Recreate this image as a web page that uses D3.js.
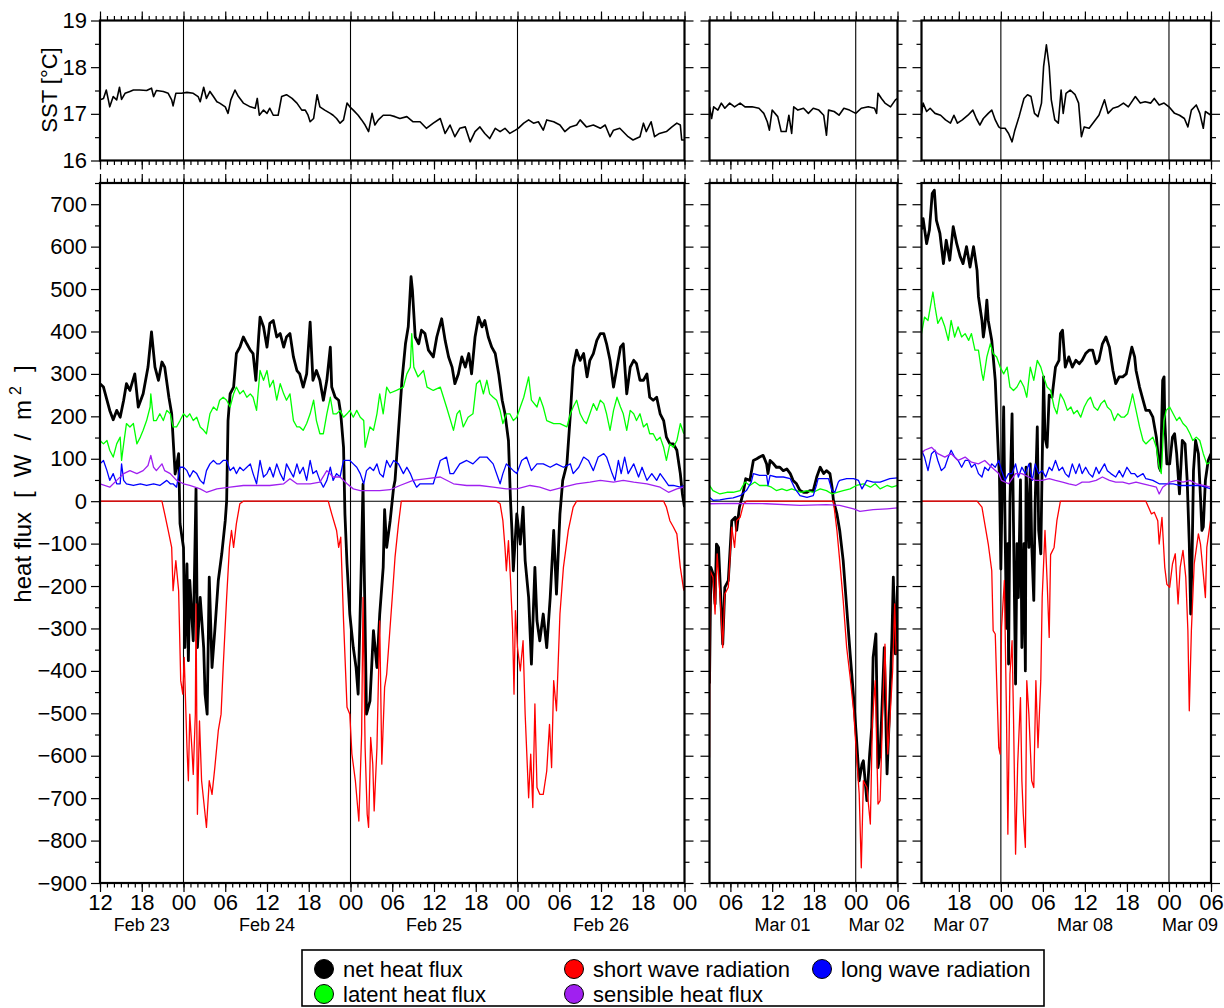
<!DOCTYPE html>
<html>
<head>
<meta charset="utf-8">
<script src="https://cdn.jsdelivr.net/npm/d3@7"></script>
<style>
  body { margin: 0; background: #fff; }
</style>
</head>
<body>
<svg id="chart" width="1224" height="1008"></svg>
<script>
// ---- data: [hours since midnight of the panel's first day, value] ----

// panel A: from Feb 23 00:00
const sstA = [[12.0,17.30],[12.5,17.33],[12.9,17.51],[13.2,17.30],[13.4,17.15],[13.9,17.37],[14.4,17.30],[14.8,17.57],[15.1,17.31],[15.6,17.44],[16.3,17.48],[16.8,17.51],[17.7,17.51],[18.7,17.50],[19.4,17.55],[19.7,17.37],[20.1,17.50],[21.1,17.48],[21.8,17.44],[22.3,17.30],[22.5,17.17],[22.9,17.44],[23.7,17.44],[24.5,17.46],[25.4,17.44],[26.1,17.37],[26.4,17.26],[26.9,17.57],[27.3,17.33],[27.8,17.48],[28.3,17.37],[28.8,17.26],[29.2,17.23],[30.0,17.15],[30.4,17.01],[30.8,17.30],[31.4,17.51],[31.9,17.37],[32.6,17.23],[33.6,17.15],[34.3,17.12],[34.6,17.33],[34.9,16.97],[35.5,17.08],[36.0,17.01],[36.4,17.12],[36.9,16.97],[37.6,16.97],[38.1,17.37],[38.8,17.41],[39.6,17.33],[40.3,17.23],[41.0,17.08],[41.5,17.08],[41.9,16.97],[42.2,16.83],[42.7,16.90],[43.2,17.41],[43.6,17.15],[44.3,17.08],[45.1,17.01],[45.5,16.97],[46.0,16.90],[46.5,16.80],[47.0,16.87],[47.5,17.23],[47.9,17.15],[48.4,17.08],[49.1,16.97],[49.6,16.87],[50.1,16.76],[50.6,16.62],[51.1,17.01],[51.5,16.76],[52.0,16.87],[52.7,16.97],[53.7,16.97],[54.4,16.94],[55.1,16.90],[56.1,16.94],[57.0,16.83],[58.0,16.83],[58.9,16.69],[59.9,16.80],[60.9,16.90],[61.6,16.58],[62.3,16.76],[63.0,16.51],[63.7,16.69],[64.5,16.72],[65.2,16.40],[65.9,16.62],[66.6,16.72],[67.3,16.58],[68.0,16.47],[68.8,16.69],[69.5,16.62],[70.2,16.69],[70.9,16.58],[71.7,16.65],[72.1,16.69],[72.9,16.80],[73.6,16.87],[74.3,16.80],[75.0,16.83],[75.7,16.65],[76.2,16.87],[77.2,16.83],[78.1,16.76],[78.8,16.62],[79.6,16.72],[80.5,16.76],[81.0,16.87],[81.9,16.72],[82.9,16.76],[83.9,16.69],[84.6,16.76],[85.3,16.51],[85.8,16.65],[86.7,16.69],[87.9,16.51],[88.6,16.44],[89.6,16.51],[90.1,16.80],[90.5,16.62],[91.2,16.83],[91.7,16.51],[92.4,16.58],[93.4,16.62],[94.2,16.72],[94.9,16.80],[95.4,16.76],[95.6,16.44],[96.0,16.44]];

const netA = [[12.0,277],[12.5,269],[13.4,214],[13.9,192],[14.4,214],[14.9,198],[15.4,238],[15.8,277],[16.3,261],[17.0,300],[17.5,222],[18.2,253],[18.9,316],[19.4,399],[19.9,316],[20.4,285],[20.9,328],[21.3,316],[21.9,245],[22.3,206],[22.8,64],[23.3,112],[23.5,-53],[24.0,-109],[24.2,-345],[24.5,-148],[24.7,-376],[24.9,-187],[25.4,-329],[25.8,30],[26.0,-345],[26.4,-227],[26.9,-345],[27.1,-455],[27.4,-502],[27.7,-179],[28.1,-392],[28.5,-305],[29.0,-187],[29.5,-124],[30.0,-46],[30.2,0],[30.4,190],[30.7,253],[31.2,269],[31.6,348],[32.1,363],[32.6,387],[33.1,371],[33.6,356],[34.0,348],[34.4,285],[34.8,387],[35.0,434],[35.5,411],[36.0,363],[36.4,419],[36.9,426],[37.4,387],[37.9,395],[38.4,363],[38.8,387],[39.3,395],[39.8,340],[40.3,308],[40.7,300],[41.2,269],[41.7,300],[42.2,422],[42.6,285],[43.1,308],[43.6,285],[44.1,238],[44.6,285],[45.1,363],[45.3,269],[45.8,245],[46.3,238],[46.6,206],[47.0,127],[47.2,-30],[47.5,-148],[47.9,-266],[48.4,-345],[48.8,-392],[49.1,-455],[49.5,-187],[49.8,40],[50.0,-187],[50.3,-502],[50.8,-471],[51.3,-305],[51.8,-392],[52.2,-266],[52.7,-156],[52.9,-20],[53.2,-109],[53.7,-46],[54.2,33],[54.4,49],[54.9,167],[55.4,285],[55.9,371],[56.3,411],[56.7,529],[56.9,497],[57.3,387],[57.8,371],[58.2,403],[58.7,395],[59.2,356],[59.9,340],[60.4,387],[61.1,430],[61.6,379],[62.1,340],[62.6,316],[63.0,277],[63.5,300],[64.0,340],[64.5,316],[65.0,348],[65.4,300],[65.9,387],[66.4,434],[66.9,411],[67.3,426],[67.8,387],[68.3,363],[68.8,348],[69.3,300],[69.8,238],[70.2,206],[70.7,143],[71.0,0],[71.2,-69],[71.4,-164],[71.9,-30],[72.4,-101],[72.8,-14],[73.1,-140],[73.6,-227],[74.0,-384],[74.5,-156],[74.8,-282],[75.2,-329],[75.7,-266],[76.2,-345],[76.7,-227],[77.2,-69],[77.6,-219],[78.1,-30],[78.5,49],[79.1,88],[79.6,206],[80.0,316],[80.5,356],[81.0,332],[81.5,348],[82.0,293],[82.4,332],[82.9,348],[83.4,379],[83.9,395],[84.4,395],[84.8,371],[85.3,332],[85.8,269],[86.3,316],[86.8,363],[87.2,371],[87.7,253],[88.2,316],[88.7,332],[89.1,324],[89.6,285],[90.1,285],[90.6,300],[91.0,245],[91.5,238],[92.0,245],[92.5,206],[93.0,190],[93.4,151],[93.9,135],[94.4,135],[94.9,120],[95.4,65],[95.7,17],[96.0,-14]];

const swA = [[12.0,0],[20.9,0],[21.3,-30],[21.8,-69],[22.3,-109],[22.5,-211],[22.9,-140],[23.3,-211],[23.6,-423],[23.9,-455],[24.1,-368],[24.5,-581],[24.7,-659],[24.9,-502],[25.2,-581],[25.4,-644],[25.7,-502],[25.8,-242],[26.0,-738],[26.3,-518],[26.6,-659],[27.0,-722],[27.3,-769],[27.7,-659],[28.1,-691],[28.5,-628],[29.0,-541],[29.4,-502],[29.7,-392],[30.2,-227],[30.6,-109],[30.9,-69],[31.2,-109],[31.6,-53],[32.1,-6],[32.6,0],[44.8,0],[45.3,-30],[46.0,-69],[46.3,-109],[46.6,-85],[47.0,-282],[47.5,-486],[47.9,-502],[48.2,-596],[48.7,-659],[49.2,-754],[49.6,-549],[49.8,-227],[50.1,-581],[50.4,-738],[50.6,-769],[50.9,-557],[51.2,-620],[51.4,-730],[51.8,-581],[52.2,-282],[52.5,-620],[52.9,-439],[53.2,-408],[54.0,-227],[54.4,-132],[54.9,-53],[55.3,0],[69.0,0],[69.5,-6],[69.9,-46],[70.2,-109],[70.4,-164],[70.7,-93],[71.0,-187],[71.3,-305],[71.5,-455],[71.7,-258],[72.0,-345],[72.4,-400],[72.8,-329],[73.1,-502],[73.6,-699],[73.9,-596],[74.2,-722],[74.5,-478],[74.8,-675],[75.2,-691],[75.7,-691],[76.2,-636],[76.6,-526],[76.9,-628],[77.2,-423],[77.6,-494],[78.1,-266],[78.6,-156],[79.3,-69],[80.0,-14],[80.5,0],[93.0,0],[93.4,-14],[93.9,-46],[94.4,-61],[94.9,-77],[95.4,-156],[95.9,-211]];

const latA = [[12.0,143],[12.5,135],[13.0,143],[13.4,120],[13.9,104],[14.4,135],[14.9,151],[15.1,96],[15.4,135],[15.8,183],[16.3,175],[16.8,183],[17.3,135],[17.8,151],[18.2,167],[18.7,190],[19.2,222],[19.3,253],[19.7,190],[20.1,190],[20.6,206],[21.1,190],[21.6,214],[22.1,206],[22.5,175],[23.0,175],[23.5,190],[24.0,206],[24.5,198],[24.9,206],[25.4,190],[25.9,198],[26.4,175],[26.9,167],[27.3,159],[27.8,206],[28.3,222],[28.8,214],[29.2,238],[29.7,245],[30.2,238],[30.7,222],[31.2,253],[31.6,269],[32.1,253],[32.6,261],[33.1,245],[33.6,253],[34.0,245],[34.5,214],[35.0,308],[35.5,285],[36.0,308],[36.4,269],[36.9,285],[37.4,238],[37.9,277],[38.4,253],[38.8,238],[39.3,253],[39.8,190],[40.3,175],[40.7,175],[41.2,167],[41.7,183],[42.2,206],[42.7,238],[43.1,190],[43.6,159],[44.1,159],[44.6,206],[45.1,245],[45.5,206],[46.0,206],[46.5,214],[47.0,198],[47.5,206],[47.9,214],[48.4,198],[48.9,214],[49.4,198],[49.9,190],[50.1,127],[50.8,175],[51.3,167],[51.8,206],[52.2,253],[52.7,206],[53.2,269],[53.7,255],[54.6,261],[55.6,269],[56.1,300],[56.6,316],[56.8,395],[57.1,316],[57.7,293],[58.5,308],[59.0,269],[59.9,261],[60.9,269],[61.8,222],[62.8,167],[63.3,206],[63.7,214],[64.2,175],[64.9,198],[65.6,206],[66.1,277],[66.6,285],[67.1,253],[67.6,285],[68.0,253],[68.5,245],[69.0,238],[69.5,214],[69.9,183],[70.4,206],[70.9,206],[71.4,190],[71.9,198],[72.4,222],[72.9,245],[73.6,293],[74.0,238],[74.8,222],[75.2,245],[75.7,222],[76.2,190],[77.2,183],[78.1,183],[79.1,175],[79.6,206],[80.0,222],[80.5,238],[81.0,206],[81.5,190],[81.9,183],[82.4,206],[82.9,230],[83.4,214],[83.9,238],[84.4,230],[84.8,206],[85.3,167],[85.8,214],[86.3,245],[86.8,222],[87.2,206],[87.7,167],[88.2,214],[88.7,206],[89.1,190],[89.6,206],[90.1,175],[90.6,183],[91.0,159],[91.5,159],[92.0,143],[92.5,151],[93.0,127],[93.4,96],[93.9,135],[94.4,127],[94.9,143],[95.4,183],[95.9,159]];

const lwA = [[12.0,88],[12.5,96],[13.0,72],[13.4,49],[13.9,65],[14.4,41],[14.9,41],[15.1,88],[15.4,49],[15.8,41],[16.8,37],[17.8,41],[18.7,37],[19.7,41],[20.6,37],[21.6,49],[22.1,41],[22.5,41],[23.0,33],[23.5,80],[24.0,80],[24.5,72],[24.9,57],[25.4,72],[25.9,65],[26.4,49],[26.9,41],[27.3,72],[27.8,88],[28.3,96],[28.8,88],[29.2,88],[29.7,96],[30.2,96],[30.7,72],[31.2,80],[31.6,65],[32.1,80],[32.6,72],[33.1,80],[33.6,88],[34.0,65],[34.5,41],[35.0,96],[35.5,57],[36.0,65],[36.4,80],[36.9,57],[37.4,88],[37.9,65],[38.4,49],[38.8,88],[39.3,72],[39.8,57],[40.3,88],[40.7,65],[41.2,80],[41.7,49],[42.2,96],[42.6,65],[43.1,72],[43.6,49],[44.1,33],[44.6,49],[45.1,80],[45.5,49],[46.0,65],[46.5,57],[47.0,96],[47.5,96],[47.9,96],[48.4,88],[48.9,80],[49.4,65],[49.9,41],[50.3,72],[50.8,80],[51.3,72],[51.8,88],[52.2,65],[52.7,57],[53.2,96],[53.7,80],[54.2,96],[54.9,88],[55.6,65],[56.1,80],[56.6,65],[57.0,49],[57.5,33],[58.0,41],[59.0,41],[59.9,41],[60.9,96],[61.8,104],[62.3,65],[62.8,65],[63.7,88],[64.7,96],[65.6,88],[66.6,104],[67.6,104],[68.5,88],[69.5,41],[69.9,65],[70.4,88],[70.9,80],[71.4,72],[71.9,65],[72.6,96],[73.3,104],[74.0,72],[74.8,88],[75.7,88],[76.7,80],[77.6,88],[78.6,80],[79.6,88],[80.0,65],[80.8,80],[81.5,104],[82.2,96],[82.9,72],[83.6,104],[84.4,112],[84.8,104],[85.6,65],[86.0,49],[86.5,96],[86.9,65],[87.4,104],[87.9,65],[88.7,88],[89.4,57],[89.9,80],[90.6,49],[91.3,65],[92.0,49],[92.5,65],[93.2,49],[93.7,37],[94.4,37],[95.4,33],[95.9,37]];

const sensA = [[12.0,41],[13.4,33],[14.4,49],[15.4,65],[16.3,72],[17.3,65],[18.2,72],[18.9,84],[19.3,108],[19.7,80],[20.1,72],[20.9,88],[21.3,72],[22.1,65],[23.0,49],[24.0,41],[24.9,37],[26.4,29],[27.3,21],[28.8,29],[30.7,33],[32.6,37],[34.5,37],[36.4,37],[38.4,41],[39.3,53],[40.3,41],[42.2,41],[43.6,45],[44.6,72],[45.5,57],[46.5,57],[47.5,41],[48.4,29],[49.4,25],[50.8,25],[52.2,25],[53.7,27],[55.1,37],[57.0,49],[59.0,53],[60.9,57],[62.8,41],[64.7,37],[66.6,37],[68.5,33],[70.4,29],[71.9,29],[73.8,37],[75.2,33],[76.7,25],[78.6,33],[80.5,41],[82.4,45],[83.9,49],[85.8,45],[87.2,49],[88.7,45],[90.6,41],[92.5,33],[93.7,21],[94.9,29],[95.9,33]];

// panel B: from Mar 01 00:00
const sstB = [[3.0,17.15],[3.3,16.90],[3.6,17.15],[4.2,17.08],[4.7,17.23],[5.2,17.12],[5.9,17.23],[6.6,17.15],[7.4,17.23],[8.1,17.15],[9.1,17.15],[10.1,17.12],[10.8,17.01],[11.3,16.83],[11.6,16.65],[12.0,17.08],[12.8,16.94],[13.3,16.62],[14.0,16.62],[14.4,16.97],[14.8,16.58],[15.1,17.15],[15.7,17.08],[16.5,17.12],[17.2,17.01],[17.9,17.12],[18.7,17.08],[19.4,16.97],[19.8,16.54],[20.1,17.08],[20.9,17.05],[21.6,16.97],[22.3,17.12],[23.1,17.08],[24.0,17.01],[24.8,17.12],[25.8,17.15],[26.7,17.12],[27.0,17.01],[27.2,17.44],[27.7,17.33],[28.2,17.23],[29.0,17.15],[29.7,17.30],[30.0,17.33]];

const netB = [[3.0,-430],[3.2,-156],[3.5,-171],[3.8,-242],[4.0,-101],[4.3,-109],[4.6,-219],[4.9,-337],[5.2,-203],[5.7,-187],[6.2,-46],[6.7,-38],[6.9,-69],[7.3,-14],[7.8,17],[8.2,53],[8.8,49],[9.3,96],[9.8,100],[10.2,104],[10.7,108],[11.2,88],[11.4,65],[11.7,96],[12.2,88],[12.6,80],[13.1,80],[13.6,72],[14.1,76],[14.6,65],[15.0,49],[15.5,41],[16.0,25],[16.5,21],[17.0,21],[17.4,25],[17.9,25],[18.4,57],[18.9,80],[19.4,65],[19.8,72],[20.3,65],[20.6,33],[20.8,2],[21.3,-30],[21.7,-69],[22.2,-140],[22.7,-250],[23.2,-360],[23.7,-463],[24.1,-557],[24.5,-659],[24.9,-620],[25.1,-612],[25.6,-706],[26.0,-596],[26.3,-533],[26.5,-368],[26.9,-313],[27.2,-628],[27.5,-596],[27.7,-518],[28.1,-345],[28.5,-643],[28.8,-518],[29.2,-321],[29.4,-179],[29.7,-360],[30.0,-200]];

const swB = [[3.0,-604],[3.1,-164],[3.5,-179],[3.8,-266],[4.1,-124],[4.5,-219],[4.9,-345],[5.2,-219],[5.7,-203],[6.2,-61],[6.6,-109],[6.9,-46],[7.4,-38],[7.9,-6],[8.3,0],[20.8,0],[21.3,-69],[21.7,-140],[22.2,-234],[22.7,-345],[23.2,-415],[23.7,-494],[24.1,-596],[24.5,-690],[24.8,-864],[25.1,-659],[25.6,-675],[26.1,-761],[26.4,-518],[26.8,-423],[27.2,-714],[27.5,-706],[27.9,-478],[28.2,-337],[28.6,-596],[28.9,-518],[29.3,-400],[29.6,-242],[29.8,-360],[30.0,-330]];

const latB = [[3.0,37],[3.5,25],[4.5,17],[5.5,21],[6.4,21],[7.4,25],[8.1,45],[8.8,37],[9.5,45],[10.2,37],[11.2,37],[11.9,33],[12.6,25],[13.4,29],[14.1,25],[14.8,29],[15.5,25],[16.2,21],[17.0,25],[17.9,21],[18.9,29],[19.8,25],[20.6,17],[21.3,21],[22.2,25],[23.2,29],[24.1,37],[25.1,41],[26.1,33],[26.8,41],[27.5,29],[28.5,37],[29.2,33],[30.0,37]];

const lwB = [[3.0,9],[3.5,2],[4.5,3],[5.5,6],[6.4,8],[7.4,13],[8.3,25],[9.0,45],[9.3,65],[10.2,61],[11.2,61],[11.4,37],[11.7,61],[12.6,57],[13.6,57],[14.6,53],[15.3,29],[16.0,13],[17.0,9],[17.9,13],[18.4,40],[18.6,53],[19.4,53],[20.1,53],[20.6,25],[21.0,21],[21.5,45],[21.7,49],[22.7,53],[23.7,53],[24.4,49],[24.9,29],[25.6,49],[26.5,45],[27.5,45],[28.2,49],[28.9,53],[30.0,55]];

const sensB = [[3.0,-6],[6.4,-5],[11.2,-6],[16.0,-10],[19.8,-8],[21.7,-10],[23.7,-18],[24.6,-24],[26.5,-20],[28.5,-18],[30.0,-16]];

// panel C: from Mar 07 00:00
const sstC = [[12.67,17.01],[12.9,17.23],[13.4,17.05],[13.9,17.12],[14.6,17.01],[15.4,16.97],[16.1,16.87],[16.8,16.80],[17.3,16.97],[17.8,16.80],[18.5,16.87],[19.3,16.97],[20.0,17.08],[20.5,16.90],[21.0,16.76],[21.5,16.90],[22.2,17.01],[22.7,17.08],[23.2,16.87],[23.7,16.72],[24.0,16.69],[24.6,16.69],[25.1,16.58],[25.6,16.40],[26.0,16.65],[26.6,16.94],[27.3,17.33],[27.8,17.41],[28.3,17.37],[28.8,17.01],[29.3,16.94],[29.8,17.23],[30.1,18.01],[30.5,18.48],[30.9,18.01],[31.2,17.30],[31.7,16.87],[32.2,16.80],[32.6,17.51],[32.9,17.01],[33.3,17.44],[33.9,17.51],[34.6,17.41],[35.1,17.23],[35.5,16.51],[35.9,16.72],[36.6,16.69],[37.3,16.83],[38.0,16.97],[38.8,17.30],[39.3,17.01],[40.0,17.12],[40.7,17.15],[41.5,17.23],[42.2,17.15],[43.2,17.37],[43.9,17.23],[44.6,17.26],[45.4,17.23],[45.9,17.33],[46.6,17.19],[47.3,17.23],[48.0,17.15],[48.8,17.01],[49.5,16.97],[50.2,16.90],[50.7,16.72],[51.2,17.08],[51.9,17.19],[52.4,17.01],[52.9,16.69],[53.2,17.05],[54.0,16.97]];

const netC = [[12.67,640],[12.9,666],[13.4,607],[13.8,639],[14.2,725],[14.5,733],[14.8,662],[15.3,631],[15.8,560],[16.2,615],[16.7,568],[17.2,647],[17.7,607],[18.2,576],[18.6,560],[19.1,600],[19.6,552],[20.1,600],[20.6,544],[20.8,482],[21.3,426],[21.5,387],[21.7,411],[22.0,474],[22.2,426],[22.7,379],[23.2,285],[23.4,206],[23.7,88],[23.8,60],[24.0,-160],[24.2,50],[24.4,222],[24.6,-60],[24.8,-300],[25.0,-100],[25.1,-384],[25.3,0],[25.6,206],[25.8,-50],[26.1,-431],[26.3,-100],[26.5,-227],[26.8,50],[27.0,-345],[27.3,-100],[27.5,-400],[27.6,80],[28.0,-109],[28.2,88],[28.4,-100],[28.7,-234],[28.9,0],[29.2,175],[29.4,-69],[29.7,-124],[29.9,88],[30.1,293],[30.3,150],[30.6,127],[30.9,250],[31.3,245],[31.8,316],[32.3,332],[32.5,395],[32.8,403],[33.2,316],[33.7,340],[34.2,316],[34.7,332],[35.2,324],[35.6,332],[36.1,348],[36.6,356],[37.1,356],[37.6,324],[38.0,332],[38.5,371],[39.0,387],[39.5,363],[40.0,308],[40.4,277],[40.9,293],[41.4,293],[41.9,300],[42.3,332],[42.7,363],[43.1,340],[43.3,308],[43.8,269],[44.3,238],[44.7,214],[45.2,214],[45.7,198],[46.2,151],[46.6,80],[46.8,72],[47.1,285],[47.3,293],[47.4,190],[47.7,88],[48.1,88],[48.5,151],[48.8,159],[49.1,112],[49.5,17],[49.9,143],[50.3,135],[50.6,49],[50.9,-100],[51.1,-266],[51.3,-132],[51.5,72],[51.8,143],[52.2,112],[52.5,9],[52.7,-69],[52.9,-61],[53.2,49],[53.6,96],[54.0,112]];

const swC = [[12.67,0],[20.6,0],[21.3,-14],[21.7,-53],[22.2,-101],[22.7,-164],[22.9,-305],[23.2,-313],[23.4,-423],[23.7,-581],[23.9,-596],[24.1,-297],[24.5,-187],[24.8,-502],[25.0,-785],[25.3,-408],[25.6,-329],[25.8,-502],[26.1,-832],[26.4,-620],[26.8,-463],[27.0,-659],[27.2,-738],[27.5,-816],[27.7,-423],[28.0,-502],[28.4,-659],[28.7,-675],[29.0,-423],[29.3,-581],[29.7,-423],[29.9,-227],[30.3,-69],[30.6,-187],[30.9,-321],[31.1,-126],[31.6,-109],[32.0,-46],[32.5,0],[44.7,0],[45.5,-30],[45.9,-26],[46.4,-46],[46.6,-101],[47.0,-38],[47.4,-156],[47.7,-196],[48.1,-203],[48.5,-148],[48.9,-124],[49.3,-242],[49.6,-156],[50.0,-116],[50.4,-179],[50.7,-305],[50.9,-494],[51.2,-305],[51.6,-148],[52.2,-77],[52.5,-101],[52.9,-172],[53.2,-227],[53.4,-109],[54.0,-38]];

const latC = [[12.67,395],[13.1,434],[13.6,426],[14.1,474],[14.3,493],[14.6,458],[15.0,419],[15.5,434],[16.0,411],[16.5,379],[16.9,426],[17.4,387],[17.9,411],[18.4,387],[18.9,395],[19.4,379],[19.8,395],[20.3,356],[20.8,356],[21.3,300],[21.5,285],[22.0,340],[22.5,371],[22.9,348],[23.4,340],[23.9,316],[24.4,300],[24.9,316],[25.3,269],[25.8,261],[26.3,269],[26.8,285],[27.3,269],[27.7,245],[28.2,316],[28.7,285],[29.2,332],[29.7,316],[30.1,293],[30.6,269],[31.1,261],[31.6,222],[32.0,206],[32.5,253],[33.0,238],[33.5,214],[34.0,222],[34.4,206],[34.9,214],[35.4,198],[35.9,222],[36.4,238],[36.8,245],[37.3,222],[37.8,214],[38.3,230],[38.8,238],[39.2,222],[39.7,214],[40.2,190],[40.7,206],[41.2,198],[41.6,198],[42.1,206],[42.6,238],[42.8,253],[43.3,214],[43.8,175],[44.3,143],[44.7,135],[45.2,143],[45.7,151],[46.2,127],[46.6,80],[46.9,65],[47.3,190],[47.6,214],[48.1,222],[48.6,206],[49.1,190],[49.5,198],[50.0,183],[50.5,175],[51.0,159],[51.4,143],[51.9,151],[52.4,143],[52.9,112],[53.4,88],[54.0,92]];

const lwC = [[12.67,120],[13.1,104],[13.6,72],[14.1,112],[14.6,120],[15.0,96],[15.5,72],[16.0,80],[16.5,104],[16.9,120],[17.4,104],[17.9,96],[18.4,80],[18.9,96],[19.4,96],[19.8,80],[20.3,88],[20.8,65],[21.3,57],[21.7,80],[22.2,72],[22.7,88],[23.2,80],[23.7,96],[24.1,72],[24.6,49],[25.1,65],[25.6,65],[26.1,88],[26.5,57],[27.0,80],[27.5,65],[28.0,88],[28.5,49],[28.9,88],[29.4,65],[29.9,72],[30.4,57],[30.9,80],[31.3,72],[31.8,96],[32.3,72],[32.8,80],[33.2,65],[33.7,57],[34.2,88],[34.7,65],[35.2,88],[35.6,65],[36.1,80],[36.6,65],[37.1,57],[37.6,80],[38.0,65],[38.8,88],[39.2,72],[39.7,65],[40.4,57],[40.9,72],[41.4,57],[42.0,80],[42.6,65],[43.1,65],[43.5,57],[44.3,65],[44.7,53],[45.7,49],[46.6,41],[47.6,41],[48.6,41],[49.5,37],[51.0,37],[52.4,37],[54.0,29]];

const sensC = [[12.67,112],[13.1,120],[14.1,127],[15.0,112],[16.0,104],[16.9,112],[17.9,96],[18.9,104],[19.8,92],[20.8,88],[21.7,96],[22.7,80],[23.7,65],[24.1,49],[25.1,41],[26.1,65],[27.0,65],[28.0,57],[28.9,49],[29.9,49],[30.9,53],[31.8,49],[32.8,45],[33.7,41],[34.7,37],[35.6,45],[36.6,45],[37.6,49],[38.5,57],[39.5,49],[40.4,45],[41.4,45],[42.3,41],[43.3,45],[44.3,41],[45.2,37],[46.2,33],[46.6,17],[47.1,33],[48.1,45],[49.1,49],[50.0,45],[51.0,49],[51.9,41],[52.9,37],[54.0,33]];

const seriesNames  = ["net heat flux", "short wave radiation", "latent heat flux", "long wave radiation", "sensible heat flux"];
const seriesColors = ["#000000", "#ff0000", "#00ff00", "#0000ff", "#a020f0"];

// ---- drawing ----
const svg = d3.select("#chart");
const FONT = '"Liberation Sans", Arial, Helvetica, sans-serif';
const H = 3600e3;

const sstY  = d3.scaleLinear().domain([16, 19]).range([160.5, 20.5]);
const fluxY = d3.scaleLinear().domain([-900, 750]).range([883, 183]);

const panels = [
  {base: Date.UTC(2011, 1, 23), from: 12,    to: 96, x0: 100,   x1: 684.5, sst: sstA, flux: [netA, swA, latA, lwA, sensA], labels: true},
  {base: Date.UTC(2011, 2, 1),  from: 3,     to: 30, x0: 709.5, x1: 897.5, sst: sstB, flux: [netB, swB, latB, lwB, sensB]},
  {base: Date.UTC(2011, 2, 7),  from: 12.67, to: 54, x0: 921.5, x1: 1211,  sst: sstC, flux: [netC, swC, latC, lwC, sensC]}
];

function styleAxis(g, keepText) {
  g.select(".domain").remove();
  g.selectAll("line").attr("stroke", "#000").attr("stroke-width", 1.2);
  if (keepText) {
    g.selectAll("text").attr("font-family", FONT).attr("font-size", 22).attr("fill", "#000");
  } else {
    g.selectAll("text").remove();
  }
}

function addAxis(gen, tx, ty, keepText) {
  const g = svg.append("g").attr("transform", `translate(${tx},${ty})`).call(gen);
  styleAxis(g, keepText);
  return g;
}

panels.forEach((p, i) => {
  const t0 = new Date(p.base + p.from * H), t1 = new Date(p.base + p.to * H);
  const x = d3.scaleUtc().domain([t0, t1]).range([p.x0, p.x1]);
  const rows = [
    {y: sstY,  top: 20.5, bot: 160.5, major: [16, 17, 18, 19], minor: [16.5, 17.5, 18.5]},
    {y: fluxY, top: 183,  bot: 883,   major: d3.range(-900, 701, 100), minor: d3.range(-850, 751, 100)}
  ];
  const days = d3.utcDay.range(new Date(+t0 + 1), t1);

  rows.forEach((r, ri) => {
    const clipId = `clip-${i}-${ri}`;
    svg.append("clipPath").attr("id", clipId).append("rect")
      .attr("x", p.x0).attr("y", r.top).attr("width", p.x1 - p.x0).attr("height", r.bot - r.top);

    // day separators
    svg.append("g").selectAll("line").data(days).join("line")
      .attr("x1", d => x(d)).attr("x2", d => x(d))
      .attr("y1", r.top).attr("y2", r.bot)
      .attr("stroke", "#000").attr("stroke-width", 1.1);

    const line = d3.line()
      .x(d => x(new Date(p.base + d[0] * H)))
      .y(d => r.y(d[1]));

    const plot = svg.append("g").attr("clip-path", `url(#${clipId})`);
    if (ri === 0) {
      plot.append("path").attr("d", line(p.sst))
        .attr("fill", "none").attr("stroke", "#000").attr("stroke-width", 1.6)
        .attr("stroke-linejoin", "round");
    } else {
      plot.append("line")
        .attr("x1", p.x0).attr("x2", p.x1).attr("y1", fluxY(0)).attr("y2", fluxY(0))
        .attr("stroke", "#000").attr("stroke-width", 1.1);
      p.flux.forEach((s, si) => {
        plot.append("path").attr("d", line(s))
          .attr("fill", "none").attr("stroke", seriesColors[si])
          .attr("stroke-width", si === 0 ? 2.8 : 1.3)
          .attr("stroke-linejoin", "round");
      });
    }

    // ticks on all sides
    addAxis(d3.axisTop(x).ticks(d3.utcHour.every(6)).tickSize(9), 0, r.top, false);
    addAxis(d3.axisTop(x).ticks(d3.utcHour.every(1)).tickSize(4.5), 0, r.top, false);
    addAxis(d3.axisBottom(x).ticks(d3.utcHour.every(6)).tickSize(9).tickPadding(2)
      .tickFormat(d3.utcFormat("%H")), 0, r.bot, ri === 1);
    addAxis(d3.axisBottom(x).ticks(d3.utcHour.every(1)).tickSize(4.5), 0, r.bot, false);

    addAxis(d3.axisLeft(r.y).tickValues(r.major).tickSize(9).tickPadding(4)
      .tickFormat(d3.format("d")), p.x0, 0, !!p.labels);
    addAxis(d3.axisLeft(r.y).tickValues(r.minor).tickSize(5), p.x0, 0, false);
    addAxis(d3.axisRight(r.y).tickValues(r.major).tickSize(9), p.x1, 0, false);
    addAxis(d3.axisRight(r.y).tickValues(r.minor).tickSize(5), p.x1, 0, false);

    // frame
    svg.append("rect")
      .attr("x", p.x0).attr("y", r.top).attr("width", p.x1 - p.x0).attr("height", r.bot - r.top)
      .attr("fill", "none").attr("stroke", "#000").attr("stroke-width", 2.2);

    // date labels under the flux panel, centred on the visible part of each day
    if (ri === 1) {
      const dayStarts = d3.utcDay.range(d3.utcDay.floor(t0), t1);
      svg.append("g").selectAll("text").data(dayStarts).join("text")
        .attr("x", d => {
          const a = Math.max(+d, +t0), b = Math.min(+d3.utcDay.offset(d, 1), +t1);
          return (x(new Date(a)) + x(new Date(b))) / 2;
        })
        .attr("y", 931)
        .attr("text-anchor", "middle")
        .attr("font-family", FONT).attr("font-size", 18)
        .text(d => d3.utcFormat("%b %d")(d));
    }
  });
});

// axis titles
svg.append("text")
  .attr("transform", "translate(57,90) rotate(-90)")
  .attr("text-anchor", "middle")
  .attr("font-family", FONT).attr("font-size", 22)
  .text("SST [°C]");

// flux title is spaced out like the original: heat flux [ W / m^2 ]
const fluxTitle = svg.append("text")
  .attr("transform", "translate(31,484) rotate(-90)")
  .attr("text-anchor", "middle")
  .attr("font-family", FONT).attr("font-size", 24);
fluxTitle.append("tspan").text("heat flux");
["[", "W", "/", "m"].forEach(s => fluxTitle.append("tspan").attr("dx", 14).text(s));
fluxTitle.append("tspan").attr("dx", 5).attr("dy", -10).attr("font-size", 16).text("2");
fluxTitle.append("tspan").attr("dx", 14).attr("dy", 10).text("]");

// legend
const legendItems = [
  {i: 0, col: 0, row: 0}, {i: 1, col: 1, row: 0}, {i: 3, col: 2, row: 0},
  {i: 2, col: 0, row: 1}, {i: 4, col: 1, row: 1}
];
const legendCols = [324, 574, 822];
const legendRows = [969, 994];
svg.append("rect")
  .attr("x", 302).attr("y", 950).attr("width", 742).attr("height", 56)
  .attr("fill", "#fff").attr("stroke", "#000").attr("stroke-width", 1.6);
const leg = svg.append("g").selectAll("g").data(legendItems).join("g")
  .attr("transform", d => `translate(${legendCols[d.col]},${legendRows[d.row]})`);
leg.append("circle").attr("r", 9.5)
  .attr("fill", d => seriesColors[d.i]).attr("stroke", "#000").attr("stroke-width", 1);
leg.append("text").attr("x", 19).attr("dy", "0.36em")
  .attr("font-family", FONT).attr("font-size", 22)
  .text(d => seriesNames[d.i]);
</script>
</body>
</html>
